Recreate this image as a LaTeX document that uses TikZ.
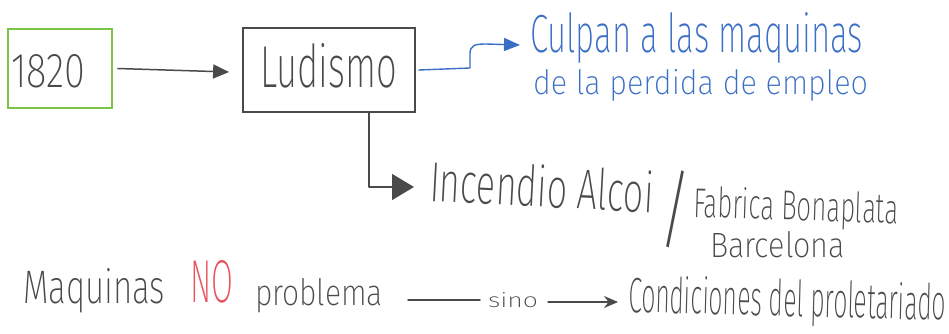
\documentclass[tikz,border=0pt]{standalone}
\usepackage{fontspec}
\setmainfont{Fira Sans}[UprightFont={* ExtraLight}]
\usepackage{graphicx}
\usetikzlibrary{arrows.meta,calc}
\definecolor{pencil}{HTML}{4A4A4A}
\definecolor{bluepen}{HTML}{3B6FC6}
\definecolor{greenpen}{HTML}{7CC445}
\definecolor{redpen}{HTML}{E8505C}
\newcommand\hw[3]{\resizebox{#1pt}{#2pt}{#3}}
\begin{document}
\begin{tikzpicture}[x=1pt,y=-1pt,
  txt/.style={inner sep=0pt,outer sep=0pt,text=pencil,anchor=base west},
  bluetxt/.style={txt,text=bluepen},
  boxnode/.style={draw=pencil,line width=1.8pt,inner sep=0pt,rectangle},
  greenbox/.style={boxnode,draw=greenpen},
  conn/.style={draw=pencil,line width=1.5pt,line cap=round,line join=round},
  bigtip/.style={-{Triangle[length=16pt,width=14pt]}},
  hugetip/.style={-{Triangle[length=22pt,width=26pt]}},
  smalltip/.style={-{Stealth[length=14pt,width=12pt]}}]
\useasboundingbox (0,0) rectangle (949,334);
% boxes
\node[greenbox,minimum width=104pt,minimum height=79pt] (b1820) at (60,68.5) {};
\node[txt] (t1820) at (11,88) {\hw{74}{33}{1820}};
\node[boxnode,minimum width=172pt,minimum height=84pt] (lud) at (329,70) {};
\node[txt] (tlud) at (260,88) {\hw{137}{44}{Ludismo}};
% blue text
\node[bluetxt] (c1) at (530,53) {\hw{333}{40}{Culpan a las maquinas}};
\node[bluetxt] (c2) at (533,95) {\hw{335}{25}{de la perdida de empleo}};
% incendio
\node[txt,rotate=-3] (inc) at (429,201) {\hw{224}{42}{Incendio Alcoi}};
\node[inner sep=0pt,outer sep=0pt,text=pencil,anchor=south west] (slash) at (658,248) {\resizebox*{34pt}{77pt}{/}};
\node[txt,rotate=-1.8] (fab) at (693,217) {\hw{205}{31}{Fabrica Bonaplata}};
\node[txt] (bar) at (710,257) {\hw{135}{26}{Barcelona}};
% bottom line
\node[txt] (maq) at (23,303) {\hw{142}{35}{Maquinas}};
\node[txt,text=redpen] (no) at (190,302) {\hw{43}{42}{NO}};
\node[txt] (prob) at (255,305) {\hw{128}{27}{problema}};
\node[txt] (sino) at (488,307) {\hw{50}{15}{sino}};
\node[txt,rotate=-1.5] (cond) at (628,312) {\hw{318}{37}{Condiciones del proletariado}};
% connectors
\draw[conn,bigtip] ([xshift=5pt]b1820.east) -- ([xshift=-13pt,yshift=-2pt]lud.west);
\draw[conn,draw=bluepen,line width=1.4pt,-{Triangle[length=16pt,width=13pt]}]
  ([xshift=3pt]lud.east) -- (470,68) -- (470,54) .. controls (470,45) and (475,44) .. (486,44)
  -- ($(c1.base west)+(-10,-8)$);
\draw[conn,hugetip] ([xshift=40pt]lud.south) |- ($(inc.base west)+(-15,-14)$);
\draw[conn] ($(prob.base east)+(25,-5)$) -- ($(sino.base west)+(-8,-7)$);
\draw[conn,smalltip] ($(sino.base east)+(10,-5)$) -- ($(cond.base west)+(-10,-10)$);
\end{tikzpicture}
\end{document}
